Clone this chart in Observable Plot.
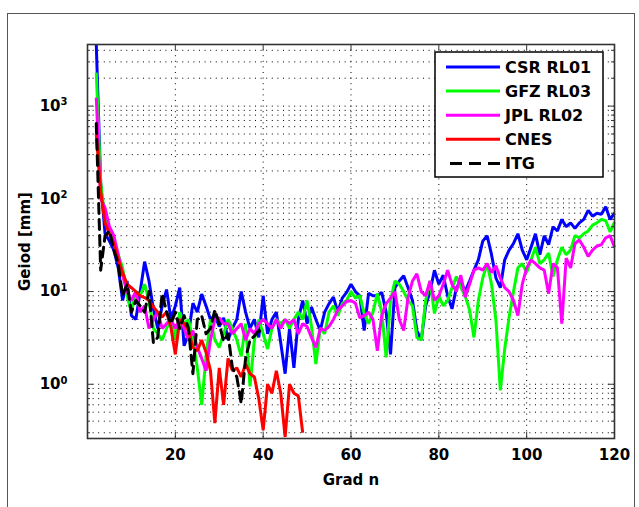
<!DOCTYPE html>
<html><head><meta charset="utf-8">
<script src="https://cdn.jsdelivr.net/npm/d3@7"></script>
<script src="https://cdn.jsdelivr.net/npm/@observablehq/plot@0.6"></script>
<style>
body{margin:0;background:#fff;}
#wrap{position:relative;width:639px;height:507px;overflow:hidden;background:#fff;}
#outer{position:absolute;left:7px;top:13px;width:628px;height:600px;border:1.5px solid #555;box-sizing:border-box;}
#chart{position:absolute;left:0;top:0;}
</style></head><body>
<div id="wrap"><div id="outer"></div><div id="chart"></div></div>
<script>
const seriesNames = ["CSR RL01", "GFZ RL03", "JPL RL02", "CNES", "ITG"];
const seriesColors = ["#0000ff", "#00ff00", "#ff00ff", "#ff0000", "#000000"];
const startDegree = 2;

const csr = [4600,150,42,35,28,18,8,13,5.5,5,
  10,21,13,6.5,4,7,10.5,5,7,11,
  2.6,3.5,7.5,6,9.4,7,5,5.5,4.2,5.2,
  3,4,5,10,6,4,5,3.2,9,3.5,
  5,6,2.8,1.3,4,1.5,5,8,4.5,6.8,
  5,3.8,6,7.4,8.7,6,8.5,9.8,12,10,
  9,3.8,9.6,9,9,9.8,6,2.1,11,13,
  14.8,11,8,3.8,3,7,10,17,12,15,
  9,6.5,11,13,10,13,17,22,35,40,
  25,14,11,22,28,33,42,28,22,30,
  42,25,40,32,50,45,60,50,55,48,
  55,60,75,65,70,68,82,60,70];

const gfz = [2300,150,60,45,35,25,18,9,6,10,
  9,12,8,4,3.5,3,4,5,3,6,
  4.5,5,3,1.5,0.6,2,5,3,2.5,3.5,
  5,4,3,2,4.5,0.95,3,5,3.5,2.4,
  4,5,4.5,5,4,5,6,5,8,4.2,
  1.65,4,3.5,6,7,5.5,7.4,8,10,8.5,
  9,5.8,4.5,6,9.5,6,1.95,8,13,12,
  10,8,7,3.2,3,8,13,5.8,9,7,
  8,11,14.5,11,9,6.3,3.2,8,14,20,
  12,4.9,0.86,2.4,5.3,10,
  18,20,16,22,30,20,22,26,14.5,22,
  30,25,28,40,38,42,45,52,55,60,
  58,44,56];

const jpl = [1230,100,80,50,40,25,15,10,8,10,
  6,7,4,5,6,4,4.5,5,4,5,
  4,3,3.8,2.5,1.9,1.4,3,5,5.2,4.5,
  4.5,3.5,4,4.5,3,4,3.5,4.5,5,4.5,
  4,5,4,5,4.5,5,3.5,4.5,4.2,3.2,
  2.5,4,3.8,4.2,5,6.3,7,7.8,8,7.5,
  5.2,5.5,6,5,2.3,5.5,7.4,8.5,10,5,
  3.8,8.7,13,15.5,10,9,13,8,9,12,
  17,12,10,15,8.7,12,17,18,17,20,
  16,19,14,11,10,8,5.5,12,18,22,
  20,18,17,9.5,20,18,4.5,23,18,33,
  36,30,24,28,31,32,38,40,30];

const cnes = [500,120,55,42,33,22,16,12,11,10,
  9,8.6,8,6.8,6,5.3,6,4.1,2.1,5,
  4.5,3.8,2.5,2.3,3,2.2,1.4,0.38,1.5,0.6,
  1.9,1.4,1.5,1.2,1.65,1.3,1.2,0.7,0.32,1.0,
  0.8,1.4,0.8,0.27,1.0,0.8,0.75,0.3];

const itg = [650,17,40,45,28,20,9,12,6,8,
  7,6,10,2.8,3.2,9.5,6,4.5,6,4,
  5.5,4,1.3,5,5.5,3.5,4,6.3,4.5,2.9,
  3.5,1.5,1.2,0.62,1.9,3,3.3,3.8,3.5];

const xTicks = [20, 40, 60, 80, 100, 120];
const yTicks = [1, 10, 100, 1000];
const yTickLabels = ["10^0", "10^1", "10^2", "10^3"];

const seriesValues = [csr, gfz, jpl, cnes, itg];
const rows = [];
seriesValues.forEach((arr, si) => arr.forEach((v, i) => rows.push({n: startDegree + i, v, s: seriesNames[si]})));
const solidRows = rows.filter(r => r.s !== "ITG");
const dashedRows = rows.filter(r => r.s === "ITG");

const yDomain = [0.26, 4620];
const yGrid = [];
for (let e = -1; e <= 3; e++) for (let k = 1; k <= 9; k++) {
  const v = k * Math.pow(10, e);
  if (v >= yDomain[0] && v <= yDomain[1]) yGrid.push(v);
}
const yMinor = yGrid.filter(v => !yTicks.includes(v));

const W = 639, H = 507, mL = 87, mR = 25, mT = 44, mB = 69;
const pw = W - mL - mR, ph = H - mT - mB;
const dot = "1,4.6";

const plot = Plot.plot({
  width: W, height: H,
  marginLeft: mL, marginRight: mR, marginTop: mT, marginBottom: mB,
  style: {fontFamily: "DejaVu Sans", fontWeight: "bold", fontSize: "15px", background: "transparent", color: "#000"},
  x: {domain: [0, 120]},
  y: {type: "log", domain: yDomain},
  color: {domain: seriesNames, range: seriesColors},
  marks: [
    Plot.ruleY(yGrid, {y: d => d, stroke: "#000", strokeWidth: 1, strokeDasharray: dot}),
    Plot.ruleX(xTicks.filter(d => d < 120), {x: d => d, stroke: "#000", strokeWidth: 1, strokeDasharray: dot}),
    Plot.line(solidRows, {x: "n", y: "v", z: "s", stroke: "s", strokeWidth: 3, strokeLinejoin: "miter", strokeLinecap: "butt"}),
    Plot.line(dashedRows, {x: "n", y: "v", stroke: "#000", strokeWidth: 3, strokeDasharray: "10,6"}),
    Plot.tickX(xTicks, {x: d => d, insetTop: ph - 6, stroke: "#333"}),
    Plot.tickX(xTicks, {x: d => d, insetBottom: ph - 6, stroke: "#333"}),
    Plot.tickY(yTicks, {y: d => d, insetRight: pw - 6, stroke: "#333"}),
    Plot.tickY(yTicks, {y: d => d, insetLeft: pw - 6, stroke: "#333"}),
    Plot.tickY(yMinor, {y: d => d, insetRight: pw - 3, stroke: "#333"}),
    Plot.tickY(yMinor, {y: d => d, insetLeft: pw - 3, stroke: "#333"}),
    Plot.frame({stroke: "#333", strokeWidth: 1.6}),
    Plot.axisX(xTicks, {tickSize: 0, tickPadding: 11, label: "Grad n", labelAnchor: "center", labelArrow: "none", labelOffset: 46}),
    Plot.axisY(yTicks, {tickSize: 0, tickPadding: 20, tickFormat: d => yTickLabels[yTicks.indexOf(d)], label: "Geiod [mm]", labelAnchor: "center", labelArrow: "none", labelOffset: 68})
  ]
});
document.getElementById("chart").appendChild(plot);

// superscript exponents on the log-axis tick labels
d3.select(plot).selectAll('g[aria-label="y-axis tick label"] text').each(function() {
  const t = d3.select(this);
  const parts = t.text().split("^");
  if (parts.length === 2) {
    t.text(parts[0]);
    t.append("tspan").attr("dy", "-0.55em").attr("font-size", "10px").text(parts[1]);
  }
});

// legend box
const svg = d3.select(plot);
const lg = svg.append("g").attr("font-family", "DejaVu Sans").attr("font-weight", "bold")
  .attr("font-size", "16px").attr("text-anchor", "start");
lg.append("rect").attr("x", 435).attr("y", 52).attr("width", 168).attr("height", 125)
  .attr("fill", "#fff").attr("stroke", "#000").attr("stroke-width", 1.5);
seriesNames.forEach((name, i) => {
  const cy = 67 + i * 24.1;
  lg.append("line").attr("x1", name === "ITG" ? 450 : 446).attr("x2", 500).attr("y1", cy).attr("y2", cy)
    .attr("stroke", seriesColors[i]).attr("stroke-width", 3)
    .attr("stroke-dasharray", name === "ITG" ? "12,7" : null);
  lg.append("text").attr("x", 505).attr("y", cy + 6).attr("fill", "#000")
    .attr("text-anchor", "start").text(name);
});
</script>
</body></html>
